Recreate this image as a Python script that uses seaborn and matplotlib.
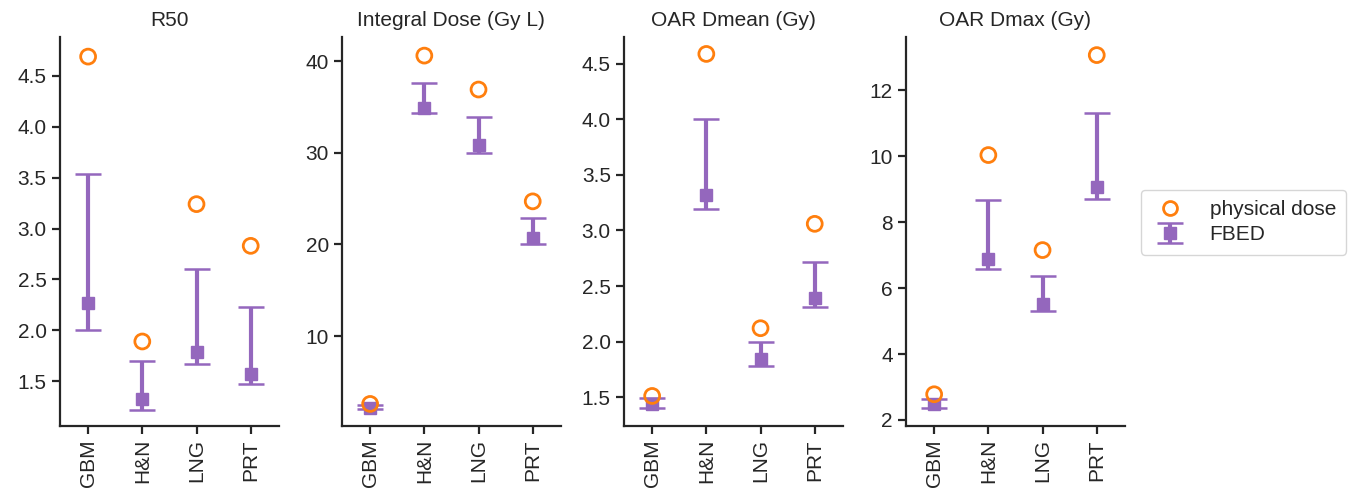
import numpy as np
import pandas as pd
import matplotlib
matplotlib.use("Agg")
import matplotlib.pyplot as plt
import seaborn as sns
from matplotlib.lines import Line2D

categories = ["GBM", "H&N", "LNG", "PRT"]
titles = ["R50", "Integral Dose (Gy L)", "OAR Dmean (Gy)", "OAR Dmax (Gy)"]

# physical dose values
phys_r50 = [4.69, 1.89, 3.24, 2.83]
phys_int = [2.6, 40.6, 36.9, 24.7]
phys_dmean = [1.51, 4.59, 2.12, 3.06]
phys_dmax = [2.78, 10.03, 7.15, 13.06]

# FBED central values
fbed_r50 = [2.27, 1.32, 1.79, 1.57]
fbed_int = [2.2, 34.9, 30.9, 20.7]
fbed_dmean = [1.44, 3.32, 1.84, 2.39]
fbed_dmax = [2.48, 6.87, 5.52, 9.05]

# FBED range lows / highs
fbed_r50_lo = [2.00, 1.22, 1.67, 1.47]
fbed_r50_hi = [3.54, 1.70, 2.60, 2.23]
fbed_int_lo = [2.0, 34.3, 30.0, 20.1]
fbed_int_hi = [2.5, 37.6, 33.9, 22.9]
fbed_dmean_lo = [1.40, 3.19, 1.78, 2.31]
fbed_dmean_hi = [1.49, 4.00, 2.00, 2.72]
fbed_dmax_lo = [2.35, 6.57, 5.30, 8.69]
fbed_dmax_hi = [2.65, 8.67, 6.36, 11.31]

ylims = [(1.06, 4.88), (0.2, 42.6), (1.24, 4.74), (1.82, 13.6)]
yticks = [[1.5, 2.0, 2.5, 3.0, 3.5, 4.0, 4.5], [10, 20, 30, 40],
          [1.5, 2.0, 2.5, 3.0, 3.5, 4.0, 4.5], [2, 4, 6, 8, 10, 12]]

panels = [
    (phys_r50, fbed_r50, fbed_r50_lo, fbed_r50_hi),
    (phys_int, fbed_int, fbed_int_lo, fbed_int_hi),
    (phys_dmean, fbed_dmean, fbed_dmean_lo, fbed_dmean_hi),
    (phys_dmax, fbed_dmax, fbed_dmax_lo, fbed_dmax_hi),
]

sns.set_theme(style="ticks")
plt.rcParams["font.family"] = ["Liberation Sans", "DejaVu Sans"]
plt.rcParams["axes.linewidth"] = 1.6
plt.rcParams["xtick.major.width"] = 1.6
plt.rcParams["ytick.major.width"] = 1.6
plt.rcParams["xtick.major.size"] = 6
plt.rcParams["ytick.major.size"] = 6

ORANGE = "#ff7f0e"
PURPLE = "#9467bd"
FS = 15

fig, axes = plt.subplots(1, 4, figsize=(13.56, 4.97), dpi=100)
fig.subplots_adjust(left=0.0442, right=0.8296, bottom=0.143, top=0.925, wspace=0.288)

for i, ax in enumerate(axes):
    phys, fb, lo, hi = panels[i]
    df = pd.DataFrame({"cat": categories, "phys": phys, "fbed": fb, "lo": lo, "hi": hi})
    x = np.arange(len(categories))
    fb_arr = np.array(fb)
    yerr = np.vstack([fb_arr - np.array(lo), np.array(hi) - fb_arr])
    ax.errorbar(x, fb_arr, yerr=yerr, fmt="s", color=PURPLE, ecolor=PURPLE,
                markersize=8.3, elinewidth=3.0, capsize=9.5, capthick=1.8,
                label="FBED", zorder=2)
    sns.scatterplot(data=df, x=x, y="phys", ax=ax, marker="o", s=115,
                    facecolor="none", edgecolor=ORANGE, linewidth=2.0,
                    zorder=3, legend=False)
    ax.set_xlim(-0.52, 3.52)
    ax.set_ylim(*ylims[i])
    ax.set_yticks(yticks[i])
    if i in (0, 2):
        ax.set_yticklabels([f"{v:.1f}" for v in yticks[i]])
    ax.set_xticks(x)
    ax.set_xticklabels(categories, rotation=90)
    ax.tick_params(labelsize=FS, colors=".15")
    ax.set_xlabel("")
    ax.set_ylabel("")
    ax.set_title(titles[i], fontsize=FS, color=".15", pad=8)
    sns.despine(ax=ax)

handles, labels = axes[3].get_legend_handles_labels()
phys_handle = Line2D([], [], marker="o", linestyle="none", markerfacecolor="none",
                     markeredgecolor=ORANGE, markeredgewidth=2.0, markersize=10)
axes[3].legend([phys_handle, handles[labels.index("FBED")]],
               ["physical dose", "FBED"], loc="upper left",
               bbox_to_anchor=(1.025, 0.635), fontsize=FS, frameon=True,
               edgecolor="#cccccc", fancybox=True, borderpad=0.5,
               handlelength=1.8, handletextpad=1.0, labelspacing=0.3)

fig.savefig("out.png", dpi=100)
